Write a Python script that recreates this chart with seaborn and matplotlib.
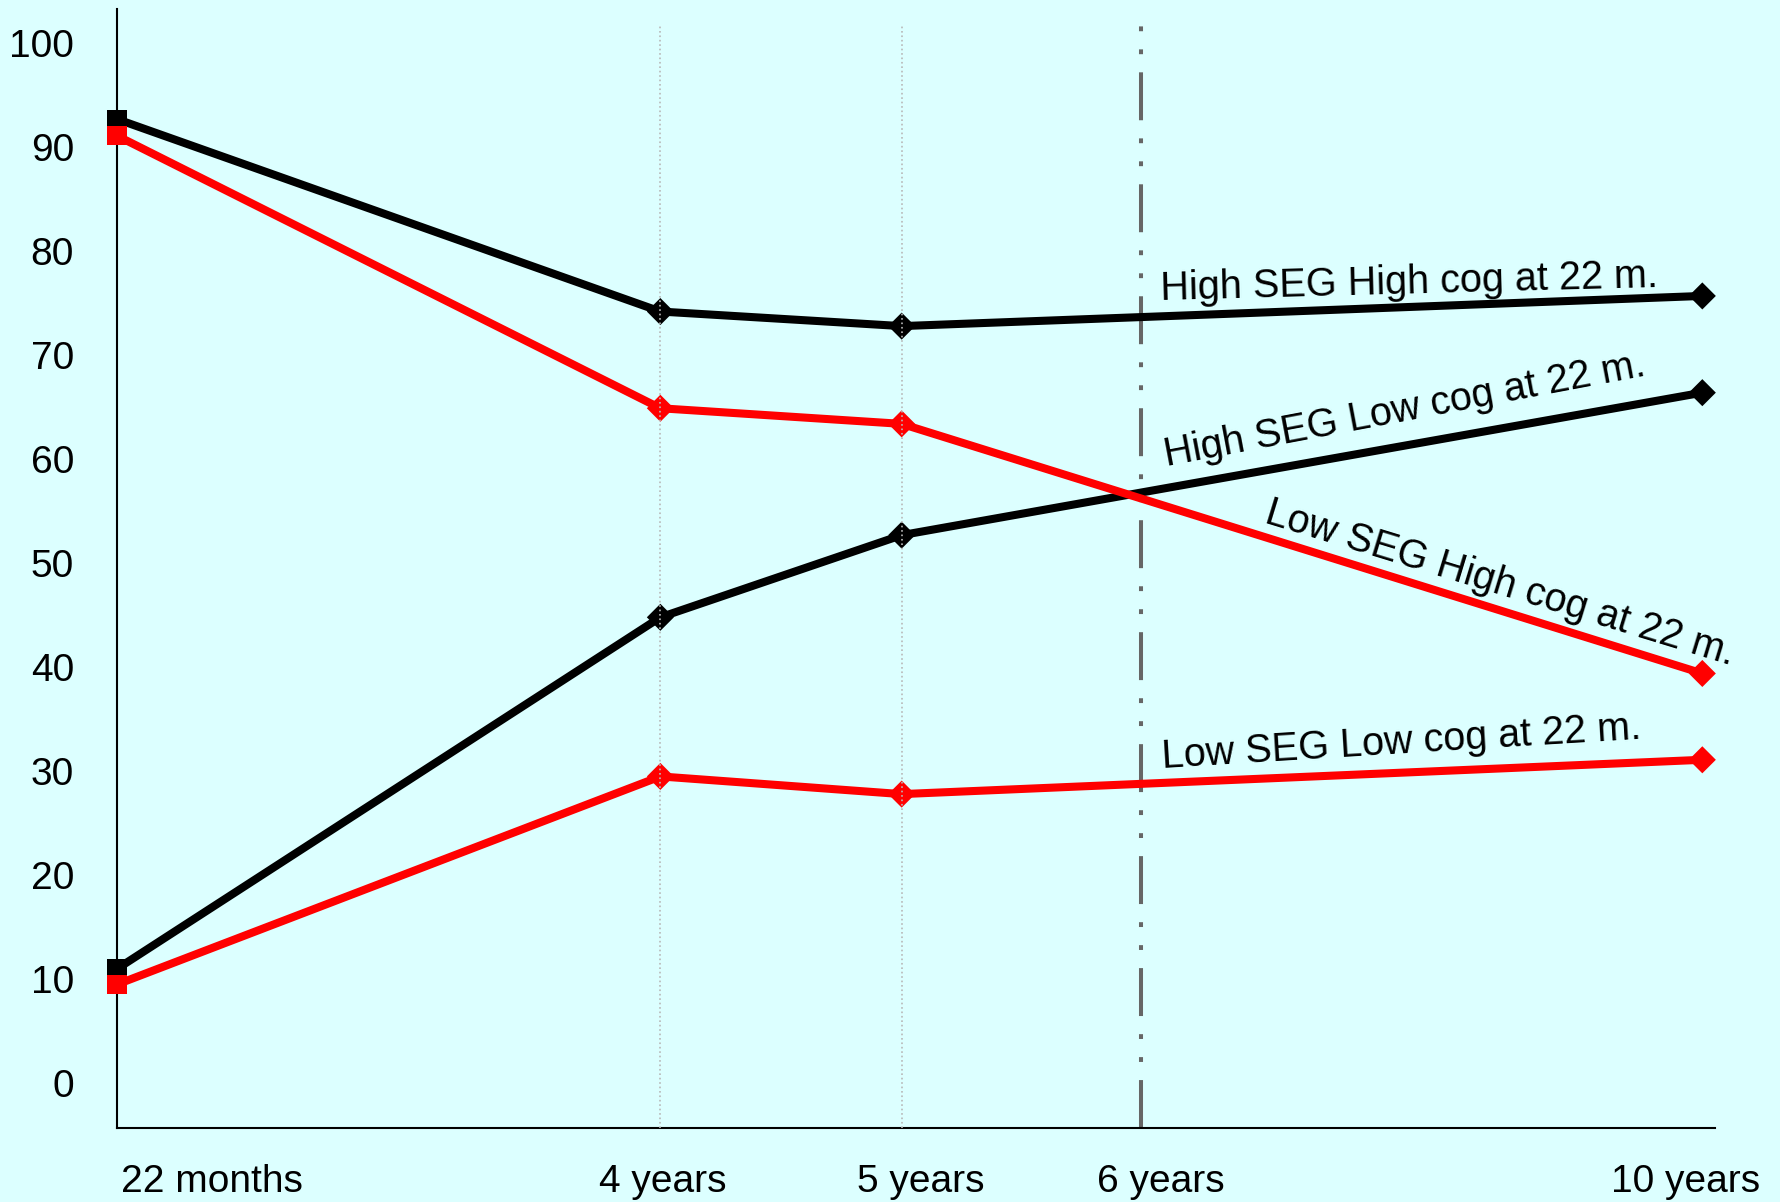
import numpy as np
import pandas as pd
import matplotlib.pyplot as plt
import seaborn as sns
from matplotlib.transforms import blended_transform_factory, offset_copy

# Ages (years) at which the groups were measured
ages = [22 / 12, 4, 5, 10]
tick_ages = [22 / 12, 4, 5, 6, 10]
tick_labels = ['22 months', '4 years', '5 years', '6 years', '10 years']
y_ticks = [0, 10, 20, 30, 40, 50, 60, 70, 80, 90, 100]

# Rank scores
high_seg_high_cog = [92.7, 74.2, 72.8, 75.7]
high_seg_low_cog = [11.0, 44.8, 52.7, 66.4]
low_seg_high_cog = [91.1, 64.9, 63.4, 39.4]
low_seg_low_cog = [9.5, 29.5, 27.8, 31.1]

series_names = ['High SEG High cog at 22 m.', 'High SEG Low cog at 22 m.',
                'Low SEG High cog at 22 m.', 'Low SEG Low cog at 22 m.']
series_values = [high_seg_high_cog, high_seg_low_cog, low_seg_high_cog, low_seg_low_cog]

rows = []
for name, vals in zip(series_names, series_values):
    for i, (a, v) in enumerate(zip(ages, vals)):
        rows.append({'age': a, 'score': v, 'group': name, 'kind': 'start' if i == 0 else 'later'})
df = pd.DataFrame(rows)

palette = {series_names[0]: 'black', series_names[1]: 'black',
           series_names[2]: '#ff0000', series_names[3]: '#ff0000'}

bg = '#dcffff'
sns.set_style('white')
plt.rcParams['font.family'] = ['Liberation Sans', 'DejaVu Sans']
plt.rcParams['text.color'] = 'black'
plt.rcParams['xtick.color'] = 'black'
plt.rcParams['ytick.color'] = 'black'

fig = plt.figure(figsize=(17.81, 12.02), dpi=100, facecolor=bg)
ax = fig.add_axes([0.0657, 0.0616, 0.8973, 0.931])
ax.set_facecolor(bg)

# uneven spacing of the time axis, as in the original slide
knot_age = [22 / 12, 4, 5, 6, 10, 10.1]
knot_pos = [0.0, 0.340, 0.491, 0.641, 0.992, 1.0]
fwd = lambda x: np.interp(x, knot_age, knot_pos)
inv = lambda p: np.interp(p, knot_pos, knot_age)
ax.set_xscale('function', functions=(fwd, inv))

sns.lineplot(data=df, x='age', y='score', hue='group', palette=palette,
             linewidth=5.8, legend=False, ax=ax, zorder=3, clip_on=False)
sns.scatterplot(data=df, x='age', y='score', hue='group', palette=palette,
                style='kind', markers={'start': 's', 'later': 'D'}, s=190,
                linewidth=0, legend=False, ax=ax, zorder=4, clip_on=False)

for a in [4, 5]:
    ax.axvline(a, ymax=0.986, color='#b8b8b8', ls=':', lw=1.2, zorder=5)
ax.axvline(6, color='#666666', lw=2.9, zorder=2,
           ls=(0, (11.9, 4.5, 1.2, 4.5, 1.2, 4.5)))

ax.set_xlim(22 / 12, 10.1)
ax.set_ylim(-4.3, 103.3)
ax.set_yticks(y_ticks)
ax.set_yticklabels([str(t) for t in y_ticks], fontsize=28)
ax.tick_params(axis='y', length=0, pad=31)
ax.set_xticks([])
ax.set_xlabel('')
ax.set_ylabel('')

# time labels under the axis (nudged like the original)
xtrans = blended_transform_factory(ax.transData, ax.transAxes)
label_dx = [3, 2, 14, 14, -12]
label_ha = ['left', 'center', 'center', 'center', 'center']
for a, lab, dx, ha in zip(tick_ages, tick_labels, label_dx, label_ha):
    ax.text(a, 0, lab, fontsize=28, ha=ha, va='top',
            transform=offset_copy(xtrans, fig=fig, x=dx, y=-26, units='points'))

sns.despine(ax=ax)
for side in ['left', 'bottom']:
    ax.spines[side].set_color('black')
    ax.spines[side].set_linewidth(1.5)

# series names written along the lines
notes = [(series_names[0], 0.653, 0.740, 1.5),
         (series_names[1], 0.657, 0.591, 10.7),
         (series_names[2], 0.717, 0.541, -17.0),
         (series_names[3], 0.654, 0.322, 3.5)]
for txt, x, y, rot in notes:
    ax.text(x, y, txt, transform=ax.transAxes, rotation=rot, rotation_mode='anchor',
            ha='left', va='baseline', fontsize=28.5, zorder=6)

fig.savefig('out.png', dpi=100, facecolor=bg)
